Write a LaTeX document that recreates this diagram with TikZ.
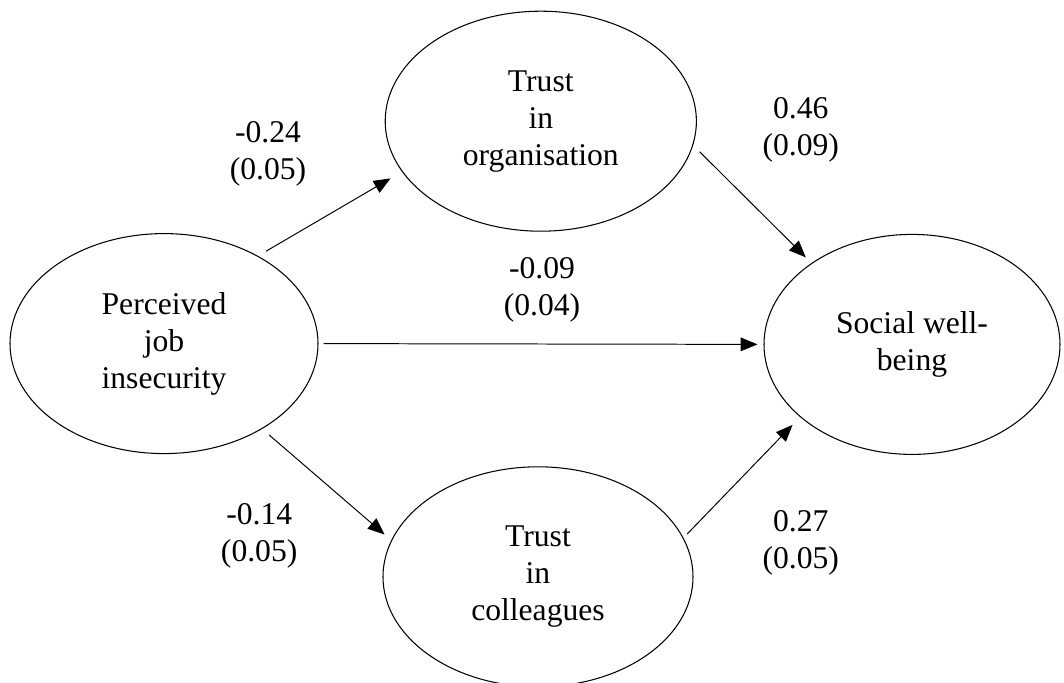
\documentclass[tikz,border=0pt]{standalone}
\usepackage{fontspec}
\setmainfont{Liberation Serif}
\usetikzlibrary{shapes.geometric,arrows.meta}

\begin{document}
\begin{tikzpicture}[
        font=\fontsize{22.5}{26.3}\selectfont,
        latent/.style={draw, ellipse, line width=0.75pt, align=center, inner sep=0pt},
        coef/.style={align=center},
        arr/.style={line width=0.7pt, -{Triangle[length=0.42cm, width=0.34cm]},
                    shorten <=0.23cm, shorten >=0.22cm}
    ]
        \clip (0,0) rectangle (26.6,17.05);
        \node(pji) at ( 4.10,  8.46) [latent, minimum width=7.70cm, minimum height=5.50cm] {Perceived\\job\\insecurity};
        \node(tio) at (13.52, 14.02) [latent, minimum width=7.78cm, minimum height=5.50cm] {Trust\\in\\organisation};
        \node(swb) at (22.80,  8.44) [latent, minimum width=7.40cm, minimum height=5.50cm] {Social well-\\being};
        \node(tic) at (13.45,  2.63) [latent, minimum width=7.75cm, minimum height=5.50cm] {Trust\\in\\colleagues};
        \node(c1)  at ( 6.70, 13.20) [coef] {-0.24\\(0.05)};
        \node(c2)  at (20.02, 13.81) [coef] {0.46\\(0.09)};
        \node(c3)  at (13.55,  9.81) [coef] {-0.09\\(0.04)};
        \node(c4)  at ( 6.48,  3.66) [coef] {-0.14\\(0.05)};
        \node(c5)  at (20.02,  3.49) [coef] {0.27\\(0.05)};
        \draw[arr, shorten >=0.33cm]  (pji.43.4)  -- (tio.200.5);
        \draw[arr, shorten >=0.20cm]  (tio.351.4) -- (swb.141.2);
        \draw[arr, shorten <=0.13cm, shorten >=0.15cm] (pji.0.9) -- (swb.180.4);
        \draw[arr]                    (pji.319.6) -- (tic.166.1);
        \draw[arr, shorten <=0.13cm, shorten >=0.27cm] (tic.15.6) -- (swb.213.6);
    \end{tikzpicture}
\end{document}
